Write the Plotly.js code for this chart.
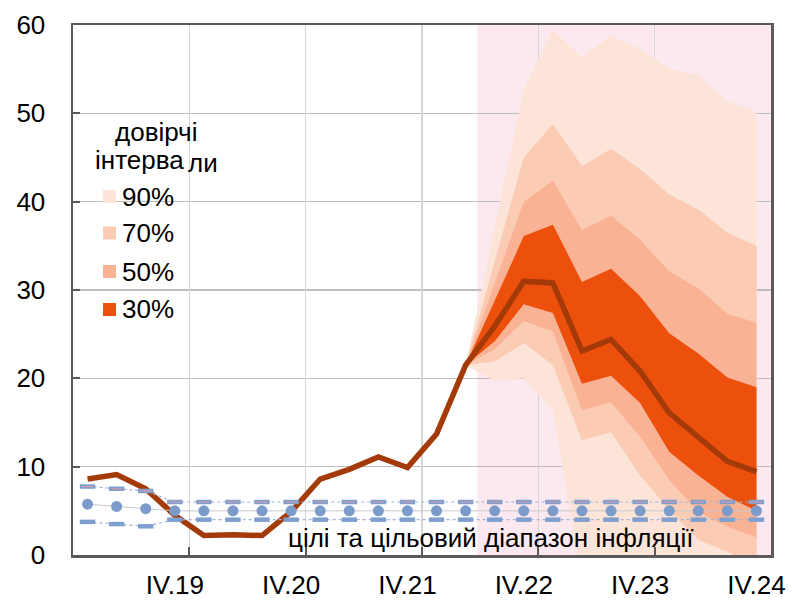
<!DOCTYPE html>
<html>
<head>
<meta charset="utf-8">
<script src="https://cdn.plot.ly/plotly-3.0.1.min.js"></script>
<style>html,body{margin:0;padding:0;background:#fff;}#chart{width:792px;height:600px;}</style>
</head>
<body>
<div id="chart"></div>
<script>
// Quarters I.19 .. IV.24
const quarters = ['I.19','II.19','III.19','IV.19','I.20','II.20','III.20','IV.20','I.21','II.21','III.21','IV.21',
                  'I.22','II.22','III.22','IV.22','I.23','II.23','III.23','IV.23','I.24','II.24','III.24','IV.24'];
const tickLabels = ['IV.19','IV.20','IV.21','IV.22','IV.23','IV.24'];

// Inflation: actual + central forecast
const inflation = [8.6, 9.1, 7.5, 4.5, 2.2, 2.3, 2.2, 4.9, 8.6, 9.7, 11.1, 9.9,
                   13.7, 21.5, 25.9, 31.0, 30.8, 23.1, 24.4, 20.8, 16.1, 13.4, 10.6, 9.45];

// Fan chart (from II.22 to IV.24)
const fanQuarters = quarters.slice(13);
const up90 = [21.5, 37.0, 52.7, 59.5, 56.3, 58.8, 57.3, 55.1, 54.3, 51.4, 50.1];
const up70 = [21.5, 33.2, 45.0, 48.8, 44.0, 46.0, 43.7, 40.8, 39.1, 36.5, 35.0];
const up50 = [21.5, 30.7, 40.0, 42.4, 36.8, 38.4, 35.7, 32.1, 30.2, 27.3, 26.3];
const up30 = [21.5, 28.8, 36.1, 37.4, 30.9, 32.4, 29.3, 25.1, 22.8, 20.1, 19.0];
const lo30 = [21.5, 24.2, 28.4, 27.4, 19.4, 20.3, 17.2, 11.7, 9.0, 6.6, 5.0];
const lo50 = [21.5, 23.3, 26.5, 25.3, 16.4, 17.3, 13.4, 8.5, 4.9, 3.2, 2.0];
const lo70 = [21.5, 21.9, 24.0, 21.5, 13.0, 13.9, 9.0, 5.1, 1.7, 0.4, -1.5];
const lo90 = [21.5, 19.7, 20.0, 16.4, -3.0, -4.0, -6.0, -9.0, -11.0, -13.0, -14.0];

// Inflation target and range
const target = [5.75, 5.5, 5.25, 5, 5, 5, 5, 5, 5, 5, 5, 5, 5, 5, 5, 5, 5, 5, 5, 5, 5, 5, 5, 5];
const targetUp = [7.75, 7.5, 7.25, 6, 6, 6, 6, 6, 6, 6, 6, 6, 6, 6, 6, 6, 6, 6, 6, 6, 6, 6, 6, 6];
const targetLo = [3.75, 3.5, 3.25, 4, 4, 4, 4, 4, 4, 4, 4, 4, 4, 4, 4, 4, 4, 4, 4, 4, 4, 4, 4, 4];

const bandLabels = ['90%', '70%', '50%', '30%'];
const bandColors = ['#fde4d8', '#fbcbb4', '#f9b294', '#ec500c'];

const FONT = 'Liberation Sans, Arial, sans-serif';
const FS = 26;
const idx = q => quarters.indexOf(q);
const xs = quarters.map(idx);
const fx = fanQuarters.map(idx);

const bands = [[up90, lo90], [up70, lo70], [up50, lo50], [up30, lo30]];
const traces = [];
bands.forEach((b, i) => {
  traces.push({
    x: fx.concat(fx.slice().reverse()),
    y: b[0].concat(b[1].slice().reverse()),
    type: 'scatter', mode: 'lines', fill: 'toself',
    fillcolor: bandColors[i], line: {width: 0, color: bandColors[i]},
    hoverinfo: 'skip', showlegend: false
  });
});
traces.push({x: xs, y: inflation, type: 'scatter', mode: 'lines',
  line: {color: '#a33a08', width: 5.5}, showlegend: false});

// target traces on overlay axis (drawn on top)
traces.push({x: xs, y: target, xaxis: 'x2', type: 'scatter', mode: 'lines',
  line: {color: '#c8c8c8', width: 1}, showlegend: false});
traces.push({x: xs, y: targetUp, xaxis: 'x2', type: 'scatter', mode: 'lines',
  line: {color: '#9cb3de', width: 1.2, dash: 'dot'}, showlegend: false});
traces.push({x: xs, y: targetLo, xaxis: 'x2', type: 'scatter', mode: 'lines',
  line: {color: '#9cb3de', width: 1.2, dash: 'dot'}, showlegend: false});
traces.push({x: xs, y: targetUp, xaxis: 'x2', type: 'scatter', mode: 'markers',
  marker: {symbol: 'line-ew', size: 11, line: {width: 4.5, color: '#7f9fcf'}}, showlegend: false});
traces.push({x: xs, y: targetUp, xaxis: 'x2', type: 'scatter', mode: 'markers',
  marker: {symbol: 'line-ew', size: 8, line: {width: 1, color: '#e09aa4'}}, showlegend: false});
traces.push({x: xs, y: targetLo, xaxis: 'x2', type: 'scatter', mode: 'markers',
  marker: {symbol: 'line-ew', size: 11, line: {width: 4.5, color: '#7f9fcf'}}, showlegend: false});
traces.push({x: xs, y: target, xaxis: 'x2', type: 'scatter', mode: 'markers',
  marker: {symbol: 'circle', size: 11, color: '#7b9bcb'}, showlegend: false});

// layout helpers
const L = 73, R = 771, T = 25, B = 555;
const px = v => (v - L) / (R - L);
const py = v => (B - v) / (B - T);

const annotations = [
  {text: 'довірчі', x: px(156), y: py(132), xanchor: 'center', yanchor: 'middle'},
  {text: 'інтерва', x: px(93), y: py(160), xanchor: 'left', yanchor: 'middle'},
  {text: 'ли', x: px(186), y: py(163), xanchor: 'left', yanchor: 'middle'}
];
const legY = [196.5, 233, 271.5, 309.5];
const shapes = [{
  type: 'rect', xref: 'x', yref: 'y', x0: 13.4, x1: 23.5, y0: 0, y1: 60,
  fillcolor: '#fbe9ef', line: {width: 0}, layer: 'below'
}];
bandLabels.forEach((lab, i) => {
  annotations.push({text: lab, x: px(120), y: py(legY[i]), xanchor: 'left', yanchor: 'middle'});
  shapes.push({type: 'rect', xref: 'paper', yref: 'paper', layer: 'above',
    x0: px(103), x1: px(116), y0: py(legY[i] + 6.5), y1: py(legY[i] - 6.5),
    fillcolor: bandColors[i], line: {width: 0}});
});
annotations.forEach(a => { a.xref = 'paper'; a.yref = 'paper'; a.showarrow = false;
  a.font = {family: FONT, size: FS, color: '#000'}; });
annotations.push({text: 'цілі та цільовий діапазон інфляції', xref: 'paper', yref: 'paper',
  x: px(491), y: py(538), xanchor: 'center', yanchor: 'middle', showarrow: false,
  font: {family: FONT, size: FS, color: '#000'}});

const boundaries = tickLabels.slice(0, -1).map(t => idx(t) + 0.5);

const layout = {
  width: 792, height: 600,
  margin: {l: L, r: 792 - R, t: T, b: 600 - B, pad: 0},
  paper_bgcolor: '#ffffff', plot_bgcolor: '#ffffff',
  showlegend: false,
  font: {family: FONT, size: FS, color: '#000'},
  xaxis: {
    range: [-0.5, 23.5], tickvals: tickLabels.map(idx), ticktext: tickLabels,
    ticks: '', showgrid: false, zeroline: false,
    showline: true, mirror: true, linecolor: '#5a5a5a', linewidth: 2.5,
    tickfont: {family: FONT, size: FS, color: '#000'}, ticklabelstandoff: 5, fixedrange: true
  },
  xaxis2: {
    overlaying: 'x', anchor: 'y', side: 'bottom', range: [-0.5, 23.5],
    tickvals: boundaries, ticks: 'inside', ticklen: 8, tickwidth: 2, tickcolor: '#5a5a5a',
    showticklabels: false, showgrid: true, gridcolor: '#d6d6d6', gridwidth: 1.5,
    showline: false, zeroline: false, fixedrange: true
  },
  yaxis: {
    range: [0, 60], tickvals: [0, 10, 20, 30, 40, 50, 60],
    ticks: 'inside', ticklen: 7, tickwidth: 2, tickcolor: '#5a5a5a',
    showline: true, mirror: true, linecolor: '#5a5a5a', linewidth: 2.5,
    showgrid: true, gridcolor: '#bdbdbd', gridwidth: 1.5, zeroline: false,
    tickfont: {family: FONT, size: FS, color: '#000'}, ticklabelstandoff: 20, fixedrange: true
  },
  shapes: shapes,
  annotations: annotations
};

Plotly.newPlot('chart', traces, layout, {displayModeBar: false, staticPlot: true});
</script>
</body>
</html>
